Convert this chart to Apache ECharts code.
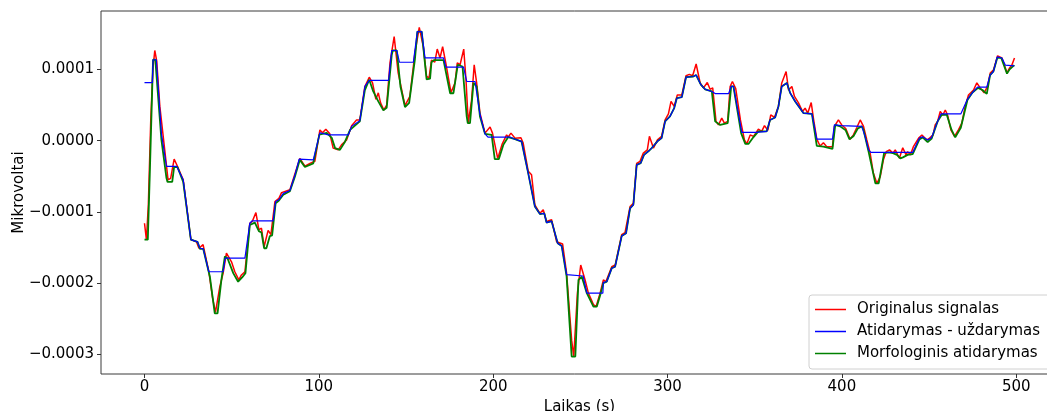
<!DOCTYPE html>
<html>
<head>
<meta charset="utf-8">
<script src="https://cdn.jsdelivr.net/npm/echarts@6/dist/echarts.min.js"></script>
<style>
html,body{margin:0;padding:0;background:#fff;}
#chart{width:1047px;height:411px;}
</style>
</head>
<body>
<div id="chart"></div>
<script>
const seriesNames = ['Originalus signalas', 'Atidarymas - uždarymas', 'Morfologinis atidarymas'];
const xTicks = [0, 100, 200, 300, 400, 500];
const xTickLabels = ['0', '100', '200', '300', '400', '500'];
const yTicks = [-3e-4, -2e-4, -1e-4, 0, 1e-4];
const yTickLabels = ['\u22120.0003', '\u22120.0002', '\u22120.0001', '0.0000', '0.0001'];

const originalSignal = [[0,-1.16e-4],[1.1,-1.39e-4],[2.2,-0.9e-4],[3.6,0.3e-4],[4.8,1.0e-4],[5.9,1.265e-4],[7.0,1.12e-4],[8.8,0.48e-4],[11.6,-0.13e-4],[13.5,-0.55e-4],[15.0,-0.53e-4],[17.0,-0.26e-4],[18.9,-0.36e-4],[22.2,-0.55e-4],[26.6,-1.39e-4],[29.8,-1.42e-4],[31.2,-1.51e-4],[33.6,-1.46e-4],[36.9,-1.84e-4],[39.0,-2.2e-4],[40.7,-2.41e-4],[43.2,-2.05e-4],[45.1,-1.86e-4],[47.0,-1.58e-4],[49.9,-1.70e-4],[51.8,-1.84e-4],[54.1,-1.955e-4],[55.6,-1.885e-4],[57.6,-1.84e-4],[60.4,-1.16e-4],[61.8,-1.135e-4],[63.9,-1.01e-4],[65.6,-1.25e-4],[67.1,-1.23e-4],[68.6,-1.49e-4],[70.9,-1.26e-4],[72.5,-1.32e-4],[74.8,-0.855e-4],[77.1,-0.81e-4],[78.6,-0.73e-4],[83.4,-0.69e-4],[86.2,-0.47e-4],[89.1,-0.25e-4],[92.0,-0.36e-4],[94.9,-0.32e-4],[97.7,-0.29e-4],[100.6,0.15e-4],[102.1,0.11e-4],[104.0,0.16e-4],[106.3,0.095e-4],[108.2,-0.105e-4],[111.1,-0.13e-4],[113.0,-0.06e-4],[115.9,0.01e-4],[118.8,0.21e-4],[121.6,0.29e-4],[123.5,0.29e-4],[126.4,0.76e-4],[128.9,0.89e-4],[130.8,0.81e-4],[132.7,0.58e-4],[134.1,0.67e-4],[135.4,0.53e-4],[137.3,0.43e-4],[138.9,0.50e-4],[140.8,1.09e-4],[143.2,1.46e-4],[145.5,0.95e-4],[149.4,0.49e-4],[152.2,0.62e-4],[155.1,1.23e-4],[157.6,1.59e-4],[159.9,1.32e-4],[161.8,0.90e-4],[163.2,0.88e-4],[164.6,1.13e-4],[166.5,1.10e-4],[167.9,1.285e-4],[169.5,1.16e-4],[171.0,1.32e-4],[172.8,1.09e-4],[175.8,0.675e-4],[178.1,0.81e-4],[179.4,1.09e-4],[181.0,1.065e-4],[183.1,1.285e-4],[184.4,0.85e-4],[185.7,0.25e-4],[187.6,0.57e-4],[189.1,1.065e-4],[190.5,0.81e-4],[192.4,0.39e-4],[195.3,0.105e-4],[198.2,0.19e-4],[199.6,0.105e-4],[202.6,-0.25e-4],[205.2,-0.045e-4],[207.7,0.08e-4],[208.6,0.05e-4],[210.2,0.105e-4],[212.5,0.035e-4],[215.9,0.04e-4],[217.2,-0.035e-4],[220.1,-0.43e-4],[222.0,-0.48e-4],[223.9,-0.90e-4],[226.8,-1.02e-4],[228.7,-0.97e-4],[230.6,-1.135e-4],[233.5,-1.11e-4],[236.4,-1.42e-4],[239.8,-1.45e-4],[242.1,-1.86e-4],[245.0,-2.80e-4],[246.2,-3.03e-4],[248.3,-2.14e-4],[250.2,-1.745e-4],[252.7,-1.955e-4],[254.6,-2.14e-4],[257.5,-2.30e-4],[259.0,-2.33e-4],[261.3,-2.14e-4],[263.2,-1.955e-4],[264.6,-1.98e-4],[268.0,-1.77e-4],[270.0,-1.745e-4],[273.7,-1.32e-4],[275.6,-1.29e-4],[278.5,-0.925e-4],[280.4,-0.88e-4],[282.3,-0.32e-4],[284.2,-0.29e-4],[286.1,-0.175e-4],[288.4,-0.13e-4],[289.6,0.06e-4],[291.9,-0.105e-4],[294.2,0.01e-4],[296.6,0.06e-4],[298.6,0.29e-4],[300.5,0.375e-4],[302.0,0.55e-4],[303.8,0.48e-4],[305.6,0.64e-4],[308.2,0.64e-4],[310.6,0.91e-4],[312.5,0.93e-4],[314.4,0.91e-4],[316.4,1.075e-4],[318.7,0.81e-4],[320.6,0.74e-4],[322.8,0.815e-4],[324.4,0.72e-4],[325.9,0.74e-4],[327.8,0.27e-4],[329.2,0.22e-4],[331.1,0.315e-4],[332.6,0.245e-4],[334.5,0.27e-4],[335.9,0.76e-4],[337.2,0.83e-4],[339.1,0.73e-4],[341.8,0.29e-4],[344.1,0.01e-4],[345.5,-0.045e-4],[347.4,0.08e-4],[349.3,0.06e-4],[352.1,0.16e-4],[354.0,0.13e-4],[355.6,0.21e-4],[357.5,0.145e-4],[359.2,0.36e-4],[361.3,0.325e-4],[363.6,0.48e-4],[365.5,0.81e-4],[368.0,0.97e-4],[369.4,0.71e-4],[371.3,0.76e-4],[372.8,0.62e-4],[375.1,0.53e-4],[377.4,0.41e-4],[378.9,0.455e-4],[380.4,0.385e-4],[382.4,0.535e-4],[383.7,0.31e-4],[385.6,0.02e-4],[387.5,-0.075e-4],[389.4,-0.03e-4],[391.3,-0.085e-4],[394.6,-0.085e-4],[395.7,0.20e-4],[398.0,0.29e-4],[399.9,0.22e-4],[402.2,0.17e-4],[404.7,0.02e-4],[406.6,0.08e-4],[408.5,0.18e-4],[410.5,0.29e-4],[412.4,0.20e-4],[414.3,0.01e-4],[416.2,-0.175e-4],[418.0,-0.45e-4],[420.1,-0.60e-4],[422.0,-0.505e-4],[423.8,-0.27e-4],[425.4,-0.155e-4],[427.3,-0.13e-4],[429.3,-0.175e-4],[430.6,-0.13e-4],[432.0,-0.20e-4],[433.0,-0.245e-4],[434.9,-0.10e-4],[436.8,-0.20e-4],[437.7,-0.155e-4],[439.3,-0.20e-4],[441.1,-0.08e-4],[444.0,0.035e-4],[445.9,0.08e-4],[448.8,0.01e-4],[450.3,0.035e-4],[452.3,0.08e-4],[453.5,0.22e-4],[454.9,0.27e-4],[456.4,0.41e-4],[457.9,0.36e-4],[459.3,0.43e-4],[460.6,0.36e-4],[462.5,0.15e-4],[464.6,0.06e-4],[466.9,0.155e-4],[468.8,0.245e-4],[470.7,0.48e-4],[472.6,0.64e-4],[475.5,0.71e-4],[477.4,0.81e-4],[479.3,0.74e-4],[481.6,0.67e-4],[483.5,0.76e-4],[485.1,0.95e-4],[487.0,0.995e-4],[489.3,1.19e-4],[491.8,1.16e-4],[492.8,1.09e-4],[494.7,0.95e-4],[496.2,1.02e-4],[497.5,1.06e-4],[499.0,1.16e-4]];

const openingClosing = [[0,0.815e-4],[4.5,0.815e-4],[4.9,1.135e-4],[6.8,1.135e-4],[9.7,0.10e-4],[12.6,-0.36e-4],[18.4,-0.36e-4],[22.2,-0.55e-4],[26.6,-1.39e-4],[30.4,-1.42e-4],[31.8,-1.51e-4],[33.7,-1.52e-4],[36.9,-1.84e-4],[45.1,-1.84e-4],[46.3,-1.65e-4],[57.6,-1.65e-4],[60.4,-1.16e-4],[61.8,-1.125e-4],[73.8,-1.125e-4],[75.2,-0.855e-4],[77.1,-0.83e-4],[79.6,-0.74e-4],[83.4,-0.70e-4],[86.2,-0.49e-4],[88.7,-0.26e-4],[96.8,-0.27e-4],[100.6,0.11e-4],[105.4,0.08e-4],[116.9,0.08e-4],[118.8,0.20e-4],[123.5,0.28e-4],[126.4,0.76e-4],[128.9,0.845e-4],[140.0,0.845e-4],[141.8,1.265e-4],[144.7,1.265e-4],[146.2,1.10e-4],[154.2,1.10e-4],[156.5,1.53e-4],[159.0,1.53e-4],[160.9,1.16e-4],[171.5,1.16e-4],[172.8,1.03e-4],[183.0,1.03e-4],[184.8,0.83e-4],[189.6,0.83e-4],[192.4,0.37e-4],[195.3,0.095e-4],[197.0,0.05e-4],[209.6,0.05e-4],[212.5,0.02e-4],[216.3,-0.01e-4],[220.1,-0.46e-4],[223.9,-0.925e-4],[226.8,-1.03e-4],[229.3,-1.02e-4],[230.6,-1.15e-4],[233.5,-1.13e-4],[237.0,-1.44e-4],[239.3,-1.48e-4],[242.1,-1.88e-4],[251.6,-1.90e-4],[253.7,-2.14e-4],[262.9,-2.14e-4],[263.2,-1.99e-4],[265.1,-1.98e-4],[268.0,-1.79e-4],[269.9,-1.77e-4],[273.7,-1.34e-4],[276.2,-1.30e-4],[278.5,-0.95e-4],[280.4,-0.90e-4],[282.3,-0.34e-4],[284.6,-0.315e-4],[286.5,-0.20e-4],[289.0,-0.15e-4],[290.9,-0.105e-4],[294.2,-0.01e-4],[296.6,0.035e-4],[298.6,0.27e-4],[301.4,0.34e-4],[303.8,0.455e-4],[305.3,0.595e-4],[308.2,0.61e-4],[310.6,0.89e-4],[314.8,0.90e-4],[316.4,0.92e-4],[319.1,0.785e-4],[321.6,0.72e-4],[325.4,0.69e-4],[327.3,0.66e-4],[335.0,0.66e-4],[336.5,0.76e-4],[337.8,0.76e-4],[342.6,0.115e-4],[351.2,0.115e-4],[352.1,0.13e-4],[356.9,0.13e-4],[358.8,0.29e-4],[361.7,0.325e-4],[363.6,0.48e-4],[365.5,0.76e-4],[368.4,0.81e-4],[370.3,0.67e-4],[373.2,0.55e-4],[378.0,0.385e-4],[382.8,0.375e-4],[385.6,0.02e-4],[394.6,0.02e-4],[395.7,0.22e-4],[399.6,0.21e-4],[411.4,0.20e-4],[413.3,0.06e-4],[415.3,-0.13e-4],[416.6,-0.165e-4],[440.6,-0.165e-4],[444.4,0.035e-4],[446.3,0.055e-4],[449.2,0.01e-4],[451.5,0.045e-4],[454.9,0.27e-4],[456.8,0.375e-4],[468.2,0.375e-4],[472.0,0.58e-4],[474.9,0.675e-4],[477.8,0.75e-4],[483.1,0.75e-4],[485.0,0.92e-4],[486.9,0.97e-4],[489.1,1.175e-4],[491.8,1.16e-4],[493.7,1.06e-4],[498.9,1.05e-4]];

const morphOpening = [[0,-1.39e-4],[1.9,-1.39e-4],[3.0,-0.5e-4],[4.9,1.135e-4],[6.2,1.135e-4],[9.7,0.01e-4],[12.6,-0.525e-4],[13.2,-0.58e-4],[15.9,-0.58e-4],[17.0,-0.37e-4],[18.9,-0.37e-4],[22.2,-0.58e-4],[26.6,-1.39e-4],[30.4,-1.42e-4],[31.8,-1.52e-4],[33.7,-1.52e-4],[37.5,-1.91e-4],[40.3,-2.425e-4],[41.9,-2.425e-4],[44.1,-1.955e-4],[46.1,-1.625e-4],[47.6,-1.65e-4],[50.9,-1.86e-4],[53.7,-1.98e-4],[56.0,-1.92e-4],[57.9,-1.86e-4],[60.4,-1.185e-4],[63.3,-1.15e-4],[65.6,-1.27e-4],[67.1,-1.29e-4],[68.6,-1.51e-4],[69.9,-1.51e-4],[71.9,-1.34e-4],[73.2,-1.33e-4],[75.2,-0.88e-4],[77.1,-0.84e-4],[79.6,-0.76e-4],[83.4,-0.71e-4],[86.2,-0.51e-4],[89.1,-0.27e-4],[92.0,-0.37e-4],[96.8,-0.32e-4],[100.3,0.085e-4],[104.5,0.11e-4],[107.4,0.04e-4],[109.3,-0.105e-4],[112.1,-0.13e-4],[115.0,-0.015e-4],[117.9,0.15e-4],[123.5,0.27e-4],[126.4,0.71e-4],[128.9,0.855e-4],[131.2,0.69e-4],[134.1,0.55e-4],[137.0,0.425e-4],[138.9,0.46e-4],[141.8,1.2e-4],[142.4,1.265e-4],[144.7,1.265e-4],[146.8,0.76e-4],[149.4,0.47e-4],[151.8,0.53e-4],[155.1,1.14e-4],[156.5,1.53e-4],[159.0,1.53e-4],[161.8,0.86e-4],[163.8,0.87e-4],[164.6,1.10e-4],[166.0,1.13e-4],[171.5,1.13e-4],[175.3,0.665e-4],[177.2,0.665e-4],[179.7,1.065e-4],[182.4,1.04e-4],[184.8,0.34e-4],[185.4,0.245e-4],[186.7,0.245e-4],[188.7,0.81e-4],[190.5,0.76e-4],[192.4,0.34e-4],[195.3,0.095e-4],[199.1,0.08e-4],[200.9,-0.26e-4],[203.2,-0.26e-4],[205.8,-0.06e-4],[208.6,0.05e-4],[212.5,0.02e-4],[216.3,-0.015e-4],[220.1,-0.46e-4],[223.9,-0.925e-4],[226.8,-1.03e-4],[229.3,-1.02e-4],[230.6,-1.15e-4],[233.5,-1.13e-4],[237.0,-1.44e-4],[239.3,-1.48e-4],[242.1,-1.905e-4],[245.0,-3.03e-4],[247.1,-3.03e-4],[248.9,-1.955e-4],[250.8,-1.91e-4],[253.7,-2.14e-4],[257.5,-2.33e-4],[259.4,-2.33e-4],[261.7,-2.14e-4],[263.2,-2.0e-4],[265.1,-1.98e-4],[268.0,-1.79e-4],[269.9,-1.77e-4],[273.7,-1.34e-4],[276.2,-1.30e-4],[278.5,-0.95e-4],[280.4,-0.90e-4],[282.3,-0.34e-4],[284.6,-0.315e-4],[286.5,-0.20e-4],[289.0,-0.15e-4],[290.9,-0.105e-4],[294.2,-0.01e-4],[296.6,0.035e-4],[298.6,0.27e-4],[301.4,0.34e-4],[303.8,0.455e-4],[305.3,0.595e-4],[308.2,0.61e-4],[310.6,0.89e-4],[314.8,0.90e-4],[316.4,0.92e-4],[319.1,0.785e-4],[321.6,0.72e-4],[325.4,0.69e-4],[327.3,0.27e-4],[330.2,0.22e-4],[331.1,0.245e-4],[334.5,0.245e-4],[336.5,0.76e-4],[337.8,0.76e-4],[342.2,0.105e-4],[344.6,-0.045e-4],[346.5,-0.045e-4],[349.3,0.05e-4],[352.1,0.13e-4],[356.9,0.13e-4],[358.8,0.29e-4],[361.7,0.325e-4],[363.6,0.48e-4],[365.5,0.76e-4],[368.4,0.81e-4],[370.3,0.67e-4],[373.2,0.55e-4],[378.0,0.385e-4],[382.8,0.375e-4],[385.6,-0.075e-4],[389.4,-0.085e-4],[394.6,-0.115e-4],[396.2,0.22e-4],[399.0,0.20e-4],[402.2,0.145e-4],[404.3,0.02e-4],[406.6,0.06e-4],[409.1,0.17e-4],[411.4,0.20e-4],[412.4,0.15e-4],[415.3,-0.155e-4],[419.2,-0.60e-4],[421.1,-0.60e-4],[424.2,-0.175e-4],[426.7,-0.165e-4],[429.3,-0.175e-4],[431.6,-0.20e-4],[433.5,-0.25e-4],[435.0,-0.235e-4],[437.7,-0.20e-4],[440.6,-0.19e-4],[444.4,0.015e-4],[446.3,0.045e-4],[449.2,-0.02e-4],[451.5,0.03e-4],[454.9,0.27e-4],[457.2,0.36e-4],[460.2,0.36e-4],[462.9,0.15e-4],[465.0,0.045e-4],[468.2,0.18e-4],[472.0,0.57e-4],[474.9,0.675e-4],[478.1,0.74e-4],[480.6,0.71e-4],[483.1,0.655e-4],[485.0,0.92e-4],[486.9,0.97e-4],[489.1,1.16e-4],[491.4,1.16e-4],[494.7,0.94e-4],[496.2,1.00e-4],[498.9,1.06e-4]];

const FONT = 'DejaVu Sans';
const chart = echarts.init(document.getElementById('chart'), null, {renderer: 'canvas'});

function labelFor(ticks, labels) {
  return function (v) {
    for (let i = 0; i < ticks.length; i++) {
      if (Math.abs(ticks[i] - v) < 1e-9) return labels[i];
    }
    return '';
  };
}

chart.setOption({
  animation: false,
  backgroundColor: '#fff',
  grid: {
    left: 101, top: 11, right: -11, bottom: 37,
    outerBoundsMode: 'none', containLabel: false,
    show: true, borderColor: '#3a3a3a', borderWidth: 1, backgroundColor: 'transparent'
  },
  xAxis: {
    type: 'value',
    min: -24.95, max: 523.95,
    name: 'Laikas (s)', nameLocation: 'middle', nameGap: 26, nameMoveOverlap: false,
    nameTextStyle: {fontFamily: FONT, fontSize: 15, color: '#000'},
    axisLine: {show: false, onZero: false},
    splitLine: {show: false},
    axisTick: {show: true, length: 4, customValues: xTicks, lineStyle: {color: '#333'}},
    axisLabel: {customValues: xTicks, formatter: labelFor(xTicks, xTickLabels), fontFamily: FONT, fontSize: 15, color: '#000', margin: 6}
  },
  yAxis: {
    type: 'value',
    min: -3.275e-4, max: 1.819e-4,
    name: 'Mikrovoltai', nameLocation: 'middle', nameGap: 74, nameMoveOverlap: false,
    nameTextStyle: {fontFamily: FONT, fontSize: 15, color: '#000'},
    axisLine: {show: false, onZero: false},
    splitLine: {show: false},
    axisTick: {show: true, length: 4, customValues: yTicks, lineStyle: {color: '#333'}},
    axisLabel: {customValues: yTicks, formatter: labelFor(yTicks, yTickLabels), fontFamily: FONT, fontSize: 15, color: '#000', margin: 7}
  },
  legend: {
    orient: 'vertical', left: 809, top: 295,
    padding: [6, 12, 7, 6],
    icon: 'rect',
    itemWidth: 31, itemHeight: 1.5, itemGap: 5,
    backgroundColor: 'rgba(255,255,255,0.8)',
    borderColor: '#d0d0d0', borderWidth: 1, borderRadius: 3,
    textStyle: {fontFamily: FONT, fontSize: 15, lineHeight: 17, color: '#000', padding: [0, 0, 0, 6]},
    data: seriesNames
  },
  series: [
    {name: seriesNames[0], type: 'line', data: originalSignal, symbol: 'none', showSymbol: false,
     color: '#ff0000', lineStyle: {color: '#ff0000', width: 1.5}, z: 2},
    {name: seriesNames[1], type: 'line', data: openingClosing, symbol: 'none', showSymbol: false,
     color: '#0000ff', lineStyle: {color: '#0000ff', width: 1.2}, z: 4},
    {name: seriesNames[2], type: 'line', data: morphOpening, symbol: 'none', showSymbol: false,
     color: '#008000', lineStyle: {color: '#008000', width: 1.8}, z: 3}
  ]
});
</script>
</body>
</html>
